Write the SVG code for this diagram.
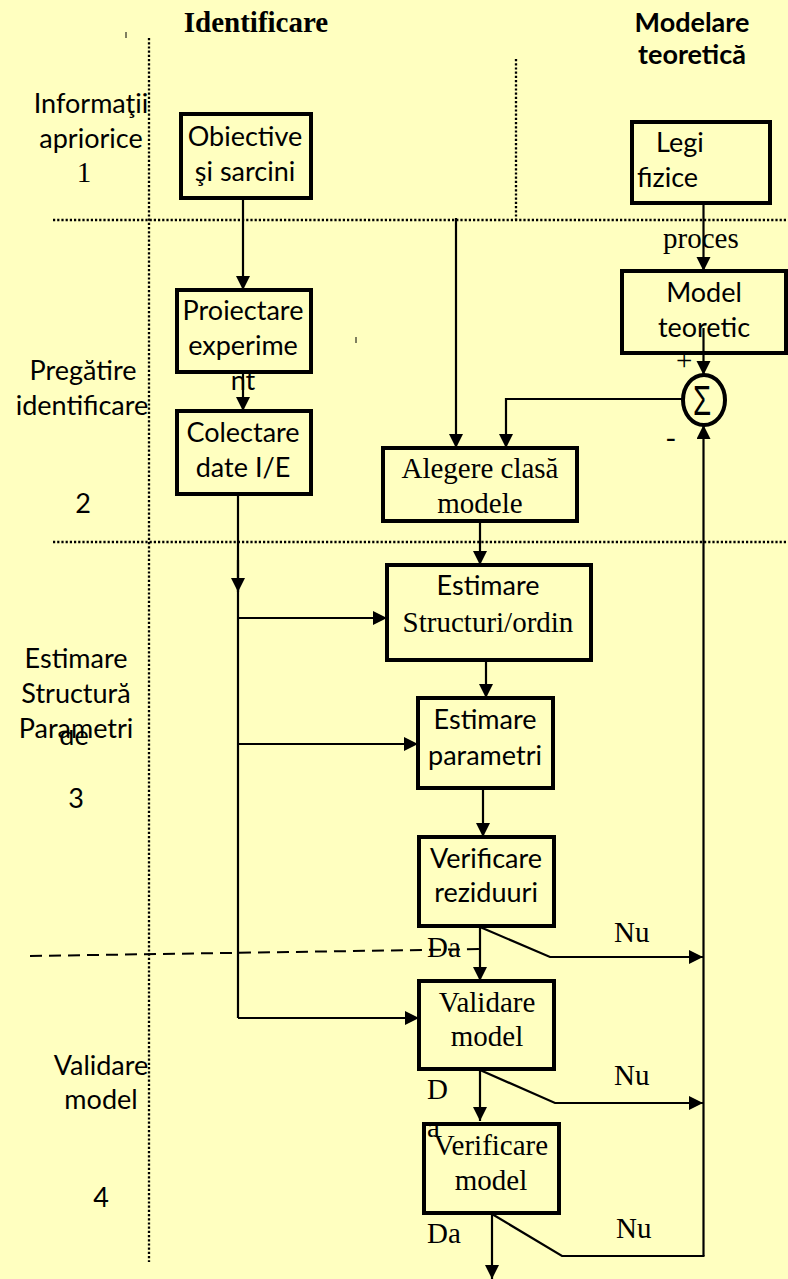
<svg xmlns="http://www.w3.org/2000/svg" width="788" height="1279" viewBox="0 0 788 1279">
  <style>
    .sans { font-family: Lato, "Open Sans", "Liberation Sans", sans-serif; font-size: 27px; fill: #000; }
    .serif { font-family: "Liberation Serif", "Times New Roman", serif; font-size: 29px; fill: #000; }
    .mid { text-anchor: middle; }
    .hdr-serif { font-family: "Liberation Serif", serif; font-size: 29px; font-weight: bold; }
    .hdr-sans { font-family: Lato, "Liberation Sans", sans-serif; font-size: 27px; font-weight: bold; }
    .box { fill: none; stroke: #000; stroke-width: 4; }
    .wire { fill: none; stroke: #000; stroke-width: 2.2; }
    .arrow { marker-end: url(#head); }
    .dots { fill: none; stroke: #000; stroke-width: 2.3; stroke-dasharray: 2.2 2; }
    .dash { fill: none; stroke: #000; stroke-width: 2; stroke-dasharray: 12 7; }
    .tick { stroke: #000; stroke-width: 1; }
  </style>
  <defs>
    <marker id="head" markerUnits="userSpaceOnUse" markerWidth="15" markerHeight="15" refX="14" refY="7" orient="auto">
      <path d="M0,0 L14,7 L0,14 z" fill="#000"/>
    </marker>
    <clipPath id="deClip">
      <rect x="55" y="730" width="40" height="25"/>
    </clipPath>
  </defs>

  <!-- background -->
  <rect x="0" y="0" width="788" height="1279" fill="#FFFFC0"/>

  <!-- column / phase separators -->
  <g id="grid">
    <line class="dots" x1="149" y1="38" x2="149" y2="1262"/>
    <line class="dots" x1="516" y1="59" x2="516" y2="220"/>
    <line class="dots" x1="53" y1="220" x2="788" y2="220"/>
    <line class="dots" x1="53" y1="542" x2="788" y2="542"/>
    <line class="dash" x1="30" y1="956" x2="485" y2="949"/>
    <line class="tick" x1="126" y1="32" x2="126" y2="38"/>
    <line class="tick" x1="356" y1="337" x2="356" y2="343"/>
  </g>

  <!-- headings and phase labels -->
  <g id="labels">
    <text class="hdr-serif mid" x="256" y="32">Identificare</text>
    <text class="hdr-sans mid" x="692" y="32">Modelare</text>
    <text class="hdr-sans mid" x="692" y="64">teoretică</text>

    <text class="sans mid" x="91" y="113">Informaţii</text>
    <text class="sans mid" x="91" y="148">apriorice</text>
    <text class="serif mid" x="84" y="182">1</text>

    <text class="sans mid" x="83" y="380">Pregătire</text>
    <text class="sans mid" x="82" y="415">identificare</text>
    <text class="sans mid" x="83" y="513">2</text>

    <text class="sans mid" x="76" y="668">Estimare</text>
    <text class="sans mid" x="76" y="703">Structură</text>
    <text class="sans mid" x="76" y="738">Parametri</text>
    <text class="sans mid" x="74" y="745" clip-path="url(#deClip)">de</text>
    <text class="sans mid" x="76" y="808">3</text>

    <text class="sans mid" x="101" y="1075">Validare</text>
    <text class="sans mid" x="101" y="1109">model</text>
    <text class="sans mid" x="101" y="1207">4</text>
  </g>

  <!-- connectors -->
  <g id="connectors">
    <line class="wire arrow" x1="243" y1="198" x2="243" y2="290"/>
    <line class="wire arrow" x1="243" y1="372" x2="243" y2="411"/>
    <line class="wire arrow" x1="703.5" y1="203" x2="703.5" y2="271"/>
    <line class="wire arrow" x1="703.5" y1="328" x2="703.5" y2="375"/>
    <polyline class="wire arrow" points="683,399 506,399 506,448"/>
    <line class="wire arrow" x1="456" y1="218" x2="456" y2="448"/>
    <line class="wire arrow" x1="703.5" y1="1256" x2="703.5" y2="425"/>

    <line class="wire" x1="238" y1="494" x2="238" y2="1018"/>
    <line class="wire arrow" x1="238" y1="560" x2="238" y2="592"/>
    <line class="wire arrow" x1="238" y1="618" x2="387" y2="618"/>
    <line class="wire arrow" x1="238" y1="744" x2="418" y2="744"/>
    <line class="wire arrow" x1="238" y1="1018" x2="419" y2="1018"/>

    <line class="wire arrow" x1="480" y1="521" x2="480" y2="565"/>
    <line class="wire arrow" x1="486" y1="660" x2="486" y2="698"/>
    <line class="wire arrow" x1="483" y1="788" x2="483" y2="837"/>

    <line class="wire arrow" x1="480" y1="927" x2="480" y2="981"/>
    <polyline class="wire arrow" points="480,927 550,957 703,957"/>

    <line class="wire arrow" x1="480" y1="1070" x2="480" y2="1121"/>
    <polyline class="wire arrow" points="480,1070 555,1103 703,1103"/>

    <line class="wire arrow" x1="492" y1="1214" x2="492" y2="1279"/>
    <polyline class="wire" points="492,1214 562,1256 704.5,1256"/>
  </g>

  <!-- nodes -->
  <g id="obiective">
    <rect class="box" x="181" y="114" width="130" height="84"/>
    <text class="sans mid" x="245" y="146">Obiective</text>
    <text class="sans mid" x="245" y="181">şi sarcini</text>
  </g>
  <g id="legi-fizice">
    <rect class="box" x="632" y="122" width="138" height="81"/>
    <text class="sans" x="656" y="152">Legi</text>
    <text class="sans" x="637" y="187">fizice</text>
  </g>
  <g id="proiectare">
    <rect class="box" x="177" y="290" width="134" height="82"/>
    <text class="sans mid" x="243" y="320">Proiectare</text>
    <text class="sans mid" x="243" y="355">experime</text>
    <text class="sans mid" x="243" y="390">nt</text>
  </g>
  <g id="colectare">
    <rect class="box" x="177" y="411" width="134" height="83"/>
    <text class="sans mid" x="243" y="442">Colectare</text>
    <text class="sans mid" x="243" y="477">date I/E</text>
  </g>
  <g id="model-teoretic">
    <text class="serif" x="663" y="248">proces</text>
    <rect class="box" x="622" y="271" width="164" height="82"/>
    <text class="sans mid" x="704" y="302">Model</text>
    <text class="sans mid" x="704" y="337">teoretic</text>
  </g>
  <g id="sumator">
    <ellipse cx="704" cy="400" rx="21" ry="25" fill="none" stroke="#000" stroke-width="4"/>
    <text transform="translate(702,415) scale(0.7,1)" style="font-family:'Liberation Sans',sans-serif;font-size:42px" text-anchor="middle">Σ</text>
    <text class="serif" x="676" y="370">+</text>
    <text class="serif" x="666" y="447">-</text>
  </g>
  <g id="alegere">
    <rect class="box" x="383" y="448" width="194" height="73"/>
    <text class="serif mid" x="480" y="478">Alegere clasă</text>
    <text class="serif mid" x="480" y="513">modele</text>
  </g>
  <g id="estimare-structura">
    <rect class="box" x="387" y="565" width="204" height="95"/>
    <text class="sans mid" x="488" y="595">Estimare</text>
    <text class="serif mid" x="488" y="632">Structuri/ordin</text>
  </g>
  <g id="estimare-parametri">
    <rect class="box" x="418" y="698" width="135" height="90"/>
    <text class="sans mid" x="485" y="729">Estimare</text>
    <text class="sans mid" x="485" y="765">parametri</text>
  </g>
  <g id="verificare-reziduuri">
    <rect class="box" x="419" y="837" width="135" height="89"/>
    <text class="sans mid" x="486" y="868">Verificare</text>
    <text class="sans mid" x="486" y="902">reziduuri</text>
    <text class="serif" x="427" y="957">Da</text>
    <text class="serif" x="614" y="942">Nu</text>
  </g>
  <g id="validare-model">
    <rect class="box" x="419" y="981" width="135" height="88"/>
    <text class="serif mid" x="487" y="1012">Validare</text>
    <text class="serif mid" x="487" y="1046">model</text>
    <text class="serif" x="427" y="1099">D</text>
    <text class="serif" x="614" y="1085">Nu</text>
  </g>
  <g id="verificare-model">
    <rect class="box" x="424" y="1124" width="135" height="89"/>
    <text class="serif" x="427" y="1137">a</text>
    <text class="serif mid" x="491" y="1155">Verificare</text>
    <text class="serif mid" x="491" y="1190">model</text>
    <text class="serif" x="427" y="1243">Da</text>
    <text class="serif" x="616" y="1238">Nu</text>
  </g>
</svg>
